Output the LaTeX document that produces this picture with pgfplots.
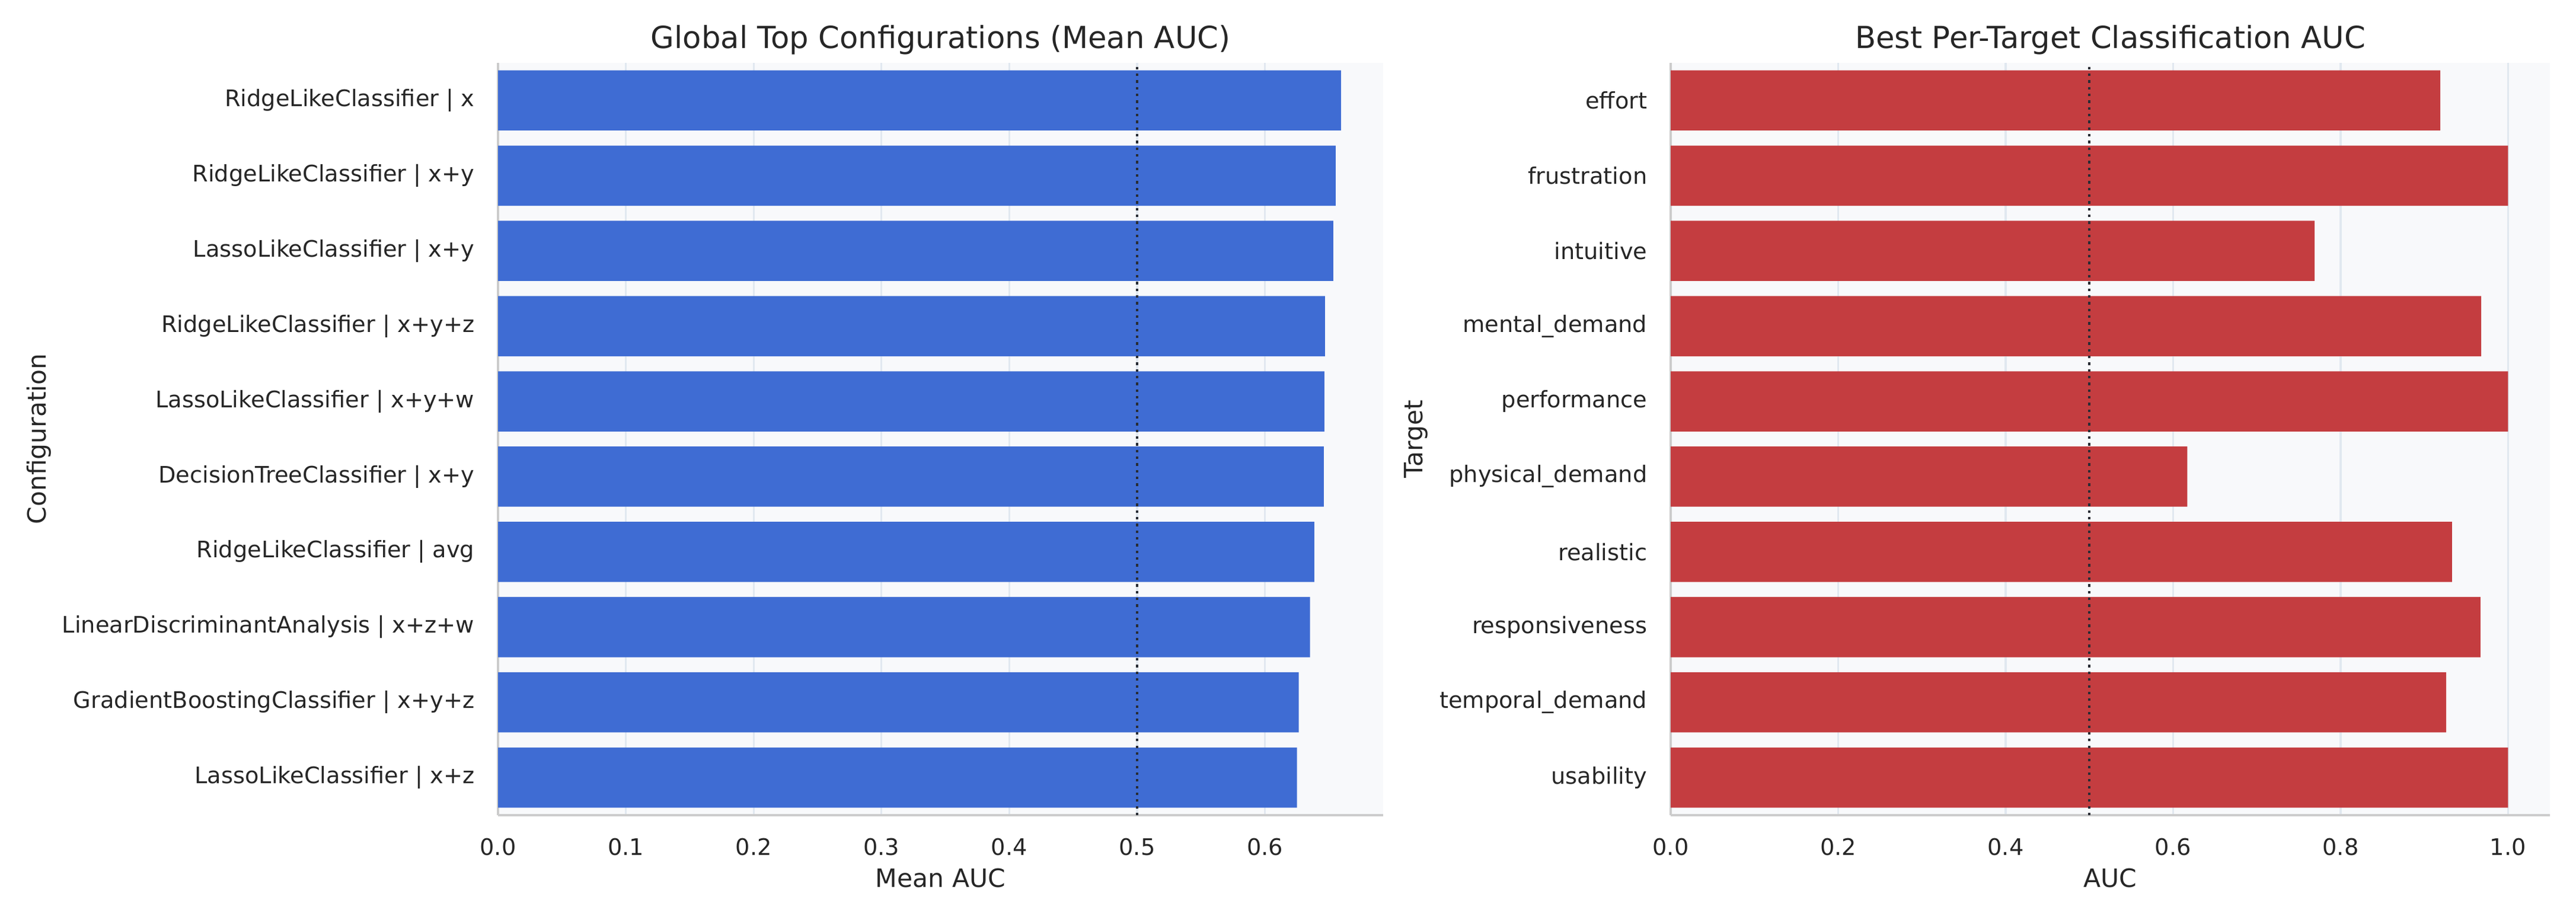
\documentclass[border=0pt]{standalone}
\usepackage{pgfplots}
\pgfplotsset{compat=1.18}
\usepackage{pgfplotstable}
\usepackage{fontspec}
\setmainfont{DejaVu Sans}
\definecolor{barblue}{RGB}{63,108,211}
\definecolor{barred}{RGB}{196,61,64}
\definecolor{bgc}{RGB}{248,249,251}
\definecolor{gridc}{RGB}{225,232,240}
\definecolor{spinec}{RGB}{204,204,204}
\definecolor{txt}{RGB}{38,38,38}
\definecolor{refline}{RGB}{40,44,52}

\pgfplotstableread{
y v
9 0.6595
8 0.6553
7 0.6535
6 0.6470
5 0.6465
4 0.6460
3 0.6386
2 0.6353
1 0.6265
0 0.6251
}\globaltab

\pgfplotstableread{
y v
9 0.919
8 1.000
7 0.769
6 0.968
5 1.000
4 0.617
3 0.933
2 0.967
1 0.926
0 1.000
}\targettab

\pgfplotsset{
  mystyle/.style={
    scale only axis,
    height=304.56pt,
    xbar, bar width=0.8,
    ymin=-0.5, ymax=9.5,
    xmin=0,
    ytick={0,...,9},
    axis lines*=left,
    axis line style={-, draw=spinec, line width=1pt},
    axis background/.style={fill=bgc},
    xmajorgrids, ymajorgrids=false,
    grid style={draw=gridc, line width=0.8pt},
    major tick length=0pt,
    /pgf/number format/assume math mode=true,
    tick label style={font=\fontsize{9.2}{11}\selectfont, text=txt},
    xticklabel style={yshift=-5.8pt, /pgf/number format/.cd, fixed, fixed zerofill, precision=1},
    yticklabel style={xshift=-6pt},
    every axis title shift=0pt,
    title style={at={(axis description cs:0.5,1.0189)}, anchor=base, font=\fontsize{12.3}{14}\selectfont, text=txt},
    xlabel style={at={(axis description cs:0.5,-0.0961)}, anchor=base, font=\fontsize{10.2}{12}\selectfont, text=txt},
    ylabel style={anchor=base, font=\fontsize{10.2}{12}\selectfont, text=txt},
  }
}

\begin{document}
\begin{tikzpicture}
\path[use as bounding box] (0,0) rectangle (1042.8pt,369.36pt);

\begin{axis}[mystyle,
  at={(201.6pt,39.36pt)}, anchor=south west,
  width=358.32pt,
  xmax=0.6925,
  xtick={0,0.1,0.2,0.3,0.4,0.5,0.6},
  yticklabels={LassoLikeClassifier | x+z, GradientBoostingClassifier | x+y+z, LinearDiscriminantAnalysis | x+z+w, RidgeLikeClassifier | avg, DecisionTreeClassifier | x+y, LassoLikeClassifier | x+y+w, RidgeLikeClassifier | x+y+z, LassoLikeClassifier | x+y, RidgeLikeClassifier | x+y, RidgeLikeClassifier | x},
  title={Global Top Configurations (Mean AUC)},
  xlabel={Mean AUC},
  ylabel={Configuration},
  ylabel style={at={(axis description cs:-0.511,0.5)}},
]
\addplot[fill=barblue, draw=none] table[x=v, y=y] {\globaltab};
\addplot[refline, line width=1pt, dash pattern=on 1pt off 1.72pt, sharp plot] coordinates {(0.5,-0.5) (0.5,9.5)};
\end{axis}

\begin{axis}[mystyle,
  at={(676.32pt,39.36pt)}, anchor=south west,
  width=355.92pt,
  xmax=1.05,
  xtick={0,0.2,0.4,0.6,0.8,1.0},
  yticklabels={usability, temporal\_demand, responsiveness, realistic, physical\_demand, performance, mental\_demand, intuitive, frustration, effort},
  title={Best Per-Target Classification AUC},
  xlabel={AUC},
  ylabel={Target},
  ylabel style={at={(axis description cs:-0.282,0.5)}},
]
\addplot[fill=barred, draw=none] table[x=v, y=y] {\targettab};
\addplot[refline, line width=1pt, dash pattern=on 1pt off 1.72pt, sharp plot] coordinates {(0.5,-0.5) (0.5,9.5)};
\end{axis}
\end{tikzpicture}
\end{document}
